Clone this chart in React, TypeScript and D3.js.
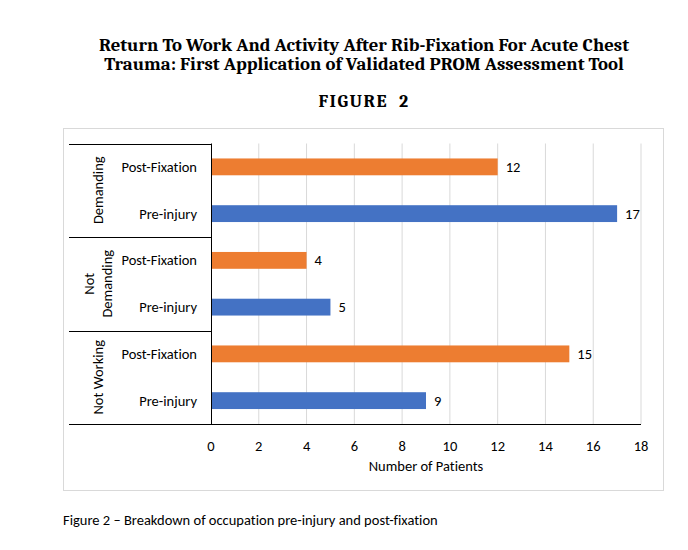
import React from "react";
import * as d3 from "d3";

const groups = ["Demanding", "Not Demanding", "Not Working"];
const groupLines = [["Demanding"], ["Not", "Demanding"], ["Not Working"]];
const rowLabels = ["Post-Fixation", "Pre-injury"];
const postFixation = [12, 4, 15];
const preInjury = [17, 5, 9];
const xTicks = [0, 2, 4, 6, 8, 10, 12, 14, 16, 18];
const titleLines = [
  "Return To Work And Activity After Rib-Fixation For Acute Chest",
  "Trauma: First Application of Validated PROM Assessment Tool",
];
const figureLabel = "FIGURE  2";
const xAxisTitle = "Number of Patients";
const caption = "Figure 2 – Breakdown of occupation pre-injury and post-fixation";

const W = 688, H = 550;
const plotL = 211, plotR = 641, plotT = 143.5, plotB = 424;
const labelLeft = 69;
const sans = "Carlito, Calibri, 'Open Sans', 'Liberation Sans', sans-serif";
const serif = "Caladea, Cambria, 'DejaVu Serif', serif";
const fs = 14.5;
const noLig = { fontVariantLigatures: "none" as const };

export default function App() {
  const x = d3.scaleLinear().domain([0, 18]).range([plotL, plotR]);
  const yGroup = d3.scaleBand<string>().domain(groups).range([plotT, plotB]);
  const yRow = d3.scaleBand<string>().domain(rowLabels).range([0, yGroup.bandwidth()]).paddingInner(0.64).paddingOuter(0.32);
  const rows = groups.flatMap((g, i) => [
    { g, row: rowLabels[0], v: postFixation[i], color: "#ED7D31" },
    { g, row: rowLabels[1], v: preInjury[i], color: "#4472C4" },
  ]);
  return (
    <svg width={W} height={H} style={{ position: "absolute", left: 0, top: 0, ...noLig }}>
      <rect x={0} y={0} width={W} height={H} fill="#fff" />
      <text x={364} y={51} textAnchor="middle" fontFamily={serif} fontWeight="bold" fontSize={18.8} fill="#000">
        {titleLines.map((t, i) => (
          <tspan key={i} x={364} dy={i === 0 ? 0 : 19.2}>{t}</tspan>
        ))}
      </text>
      <text x={364} y={107} textAnchor="middle" fontFamily={serif} fontWeight="bold" fontSize={18} letterSpacing={1.5} fill="#000" style={{ whiteSpace: "pre" }}>{figureLabel}</text>
      <rect x={63.5} y={128.5} width={600} height={362} fill="#fff" stroke="#d9d9d9" />
      {xTicks.filter(t => t > 0).map(t => (
        <line key={t} x1={x(t)} x2={x(t)} y1={plotT} y2={plotB} stroke="#d9d9d9" strokeWidth={1} />
      ))}
      {rows.map((r, i) => (
        <g key={i}>
          <rect x={x(0)} y={yGroup(r.g)! + yRow(r.row)!} width={x(r.v) - x(0)} height={yRow.bandwidth()} fill={r.color} />
          <text x={x(r.v) + 8} y={yGroup(r.g)! + yRow(r.row)! + yRow.bandwidth() / 2} dy="0.35em" fontFamily={sans} fontSize={fs} fill="#000">{r.v}</text>
          <text x={plotL - 14} y={yGroup(r.g)! + yRow(r.row)! + yRow.bandwidth() / 2} dy="0.35em" textAnchor="end" fontFamily={sans} fontSize={fs} fill="#000">{r.row}</text>
        </g>
      ))}
      {[plotT, yGroup(groups[1])!, yGroup(groups[2])!].map((y, i) => (
        <line key={i} x1={labelLeft} x2={plotL} y1={Math.round(y) + 0.5} y2={Math.round(y) + 0.5} stroke="#000" strokeWidth={1} />
      ))}
      <line x1={labelLeft} x2={plotR} y1={plotB + 0.5} y2={plotB + 0.5} stroke="#000" strokeWidth={1} />
      <line x1={plotL + 0.5} x2={plotL + 0.5} y1={plotT} y2={plotB} stroke="#000" strokeWidth={1} />
      {groupLines.map((lines, i) => {
        const cy = yGroup(groups[i])! + yGroup.bandwidth() / 2;
        const cx = 98;
        return (
          <text key={i} transform={`translate(${cx},${cy}) rotate(-90)`} textAnchor="middle" fontFamily={sans} fontSize={fs} fill="#000">
            {lines.map((l, j) => (
              <tspan key={j} x={0} y={(j - (lines.length - 1) / 2) * 18} dy="0.35em">{l}</tspan>
            ))}
          </text>
        );
      })}
      {xTicks.map(t => (
        <text key={t} x={x(t)} y={446} dy="0.35em" textAnchor="middle" fontFamily={sans} fontSize={fs} fill="#000">{t}</text>
      ))}
      <text x={(plotL + plotR) / 2} y={466} dy="0.35em" textAnchor="middle" fontFamily={sans} fontSize={fs} fill="#000">{xAxisTitle}</text>
      <text x={63} y={520} dy="0.35em" fontFamily={sans} fontSize={14.5} fill="#000">{caption}</text>
    </svg>
  );
}
